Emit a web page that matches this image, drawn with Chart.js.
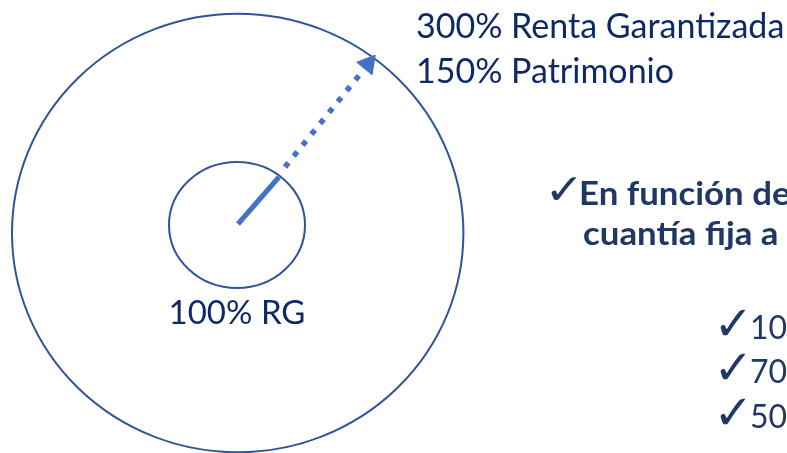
<!DOCTYPE html>
<html>
<head>
<meta charset="utf-8">
<script src="https://cdn.jsdelivr.net/npm/chart.js@4/dist/chart.umd.min.js"></script>
<style>
  html, body { margin: 0; padding: 0; background: #ffffff; }
  #wrap { width: 787px; height: 453px; position: relative; }
</style>
</head>
<body>
<div id="wrap"><canvas id="c" width="787" height="453"></canvas></div>
<script>
// ---- content ----
const headerLines = ['300% Renta Garantizada', '150% Patrimonio'];
const innerLabel = '100% RG';
const boldLines = ['En función de', 'cuantía fija a'];
const listItems = ['10', '70', '50'];

// arrow path: from centre to inner ring (solid), then to outer ring (dotted)
const arrowSolidX = [238, 279];
const arrowSolidY = [224, 177];
const arrowDottedX = [285, 361];
const arrowDottedY = [167, 73];
const arrowTipX = [368];
const arrowTipY = [64];

// rings: centre x, centre y, radius x, radius y
const ringCx = [237, 237.7];
const ringCy = [225, 233];
const ringRx = [68, 225.7];
const ringRy = [63, 219.3];

const NAVY = '#0E2A66';
const NAVY2 = '#1F3864';
const RING = '#2F5597';
const ARROW = '#4472C4';

function pts(xs, ys) { return xs.map((x, i) => ({ x: x, y: ys[i] })); }

function drawCheck(ctx, x0, y0, x1, y1) {
  ctx.save();
  ctx.font = '100px "DejaVu Sans", sans-serif';
  ctx.textAlign = 'left';
  ctx.textBaseline = 'alphabetic';
  const m = ctx.measureText('\u2713');
  const gw = m.actualBoundingBoxLeft + m.actualBoundingBoxRight;
  const gh = m.actualBoundingBoxAscent + m.actualBoundingBoxDescent;
  const kx = (x1 - x0) / gw, ky = (y1 - y0) / gh;
  ctx.translate(x0, y0);
  ctx.scale(kx, ky);
  ctx.fillText('\u2713', m.actualBoundingBoxLeft, m.actualBoundingBoxAscent);
  ctx.restore();
}

function wideText(ctx, text, x, y, k) {
  ctx.save();
  ctx.translate(x, y);
  ctx.scale(k, 1);
  ctx.fillText(text, 0, 0);
  ctx.restore();
}

const diagramPlugin = {
  id: 'diagram',
  beforeDatasetsDraw(chart) {
    const ctx = chart.ctx, sx = chart.scales.x, sy = chart.scales.y;
    ctx.save();
    ctx.strokeStyle = RING;
    ctx.lineWidth = 2;
    for (let i = 0; i < ringCx.length; i++) {
      const cx = sx.getPixelForValue(ringCx[i]);
      const cy = sy.getPixelForValue(ringCy[i]);
      const rx = Math.abs(sx.getPixelForValue(ringCx[i] + ringRx[i]) - cx);
      const ry = Math.abs(sy.getPixelForValue(ringCy[i] + ringRy[i]) - cy);
      ctx.beginPath();
      ctx.ellipse(cx, cy, rx, ry, 0, 0, Math.PI * 2);
      ctx.stroke();
    }
    ctx.restore();
  },
  afterDatasetsDraw(chart) {
    const ctx = chart.ctx, sx = chart.scales.x, sy = chart.scales.y;
    const X = v => sx.getPixelForValue(v), Y = v => sy.getPixelForValue(v);
    ctx.save();
    ctx.textBaseline = 'alphabetic';
    // header lines
    ctx.fillStyle = NAVY;
    ctx.font = '34px Lato, "Open Sans", sans-serif';
    ctx.textAlign = 'left';
    ctx.fillText(headerLines[0], X(416), Y(38));
    ctx.fillText(headerLines[1], X(416), Y(83));
    // inner label
    ctx.font = '33px Lato, "Open Sans", sans-serif';
    ctx.textAlign = 'center';
    ctx.fillText(innerLabel, X(237), Y(324));
    // bold bullet
    ctx.textAlign = 'left';
    ctx.fillStyle = NAVY2;
    drawCheck(ctx, X(551), Y(177), X(576), Y(200));
    ctx.font = 'bold 33px Lato, "Open Sans", sans-serif';
    wideText(ctx, boldLines[0], X(579), Y(205), 1.055);
    wideText(ctx, boldLines[1], X(583), Y(245), 1.055);
    // list
    const base = [339, 383, 428];
    for (let i = 0; i < listItems.length; i++) {
      drawCheck(ctx, X(720), Y(base[i] - 29), X(745), Y(base[i] - 3));
      ctx.font = '32px Lato, "Open Sans", sans-serif';
      ctx.textAlign = 'left';
      ctx.fillText(listItems[i], X(750), Y(base[i]));
    }
    ctx.restore();
  }
};

new Chart(document.getElementById('c'), {
  type: 'scatter',
  data: {
    datasets: [
      {
        type: 'line',
        data: pts(arrowSolidX, arrowSolidY),
        borderColor: ARROW,
        borderWidth: 5,
        borderCapStyle: 'butt',
        pointRadius: 0,
        tension: 0
      },
      {
        type: 'line',
        data: pts(arrowDottedX, arrowDottedY),
        borderColor: ARROW,
        borderWidth: 5.5,
        borderDash: [5.5, 8.5],
        borderCapStyle: 'butt',
        pointRadius: 0,
        tension: 0
      },
      {
        data: pts(arrowTipX, arrowTipY),
        pointStyle: 'triangle',
        pointRadius: 11.5,
        pointRotation: 39,
        backgroundColor: ARROW,
        borderColor: ARROW,
        pointBorderWidth: 1
      }
    ]
  },
  options: {
    responsive: false,
    animation: false,
    devicePixelRatio: 1,
    layout: { padding: 0, autoPadding: false },
    plugins: { legend: { display: false }, tooltip: { enabled: false }, title: { display: false } },
    scales: {
      x: { type: 'linear', min: 0, max: 787, display: false },
      y: { type: 'linear', min: 0, max: 453, reverse: true, display: false }
    }
  },
  plugins: [diagramPlugin]
});
</script>
</body>
</html>
